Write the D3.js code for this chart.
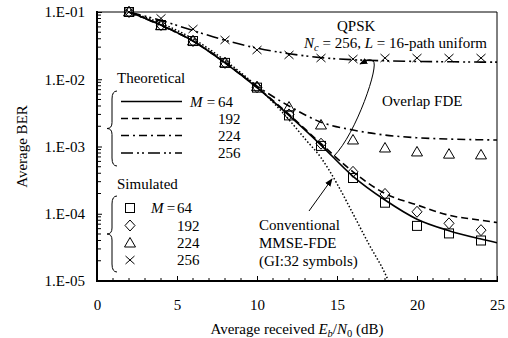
<!DOCTYPE html>
<html>
<head>
<meta charset="utf-8">
<script src="https://cdn.jsdelivr.net/npm/d3@7"></script>
<style>
  body { margin: 0; background: #fff; }
</style>
</head>
<body>
<div id="chart"></div>
<script>
// Eb/N0 (dB) grid of the theoretical curves
const snrTheory = [2, 4, 6, 8, 10, 12, 14, 16, 18, 20, 22, 24, 25];
const theory64  = [0.1, 0.064, 0.037, 0.0175, 0.0075, 0.0029, 0.00105, 0.00036, 0.00016, 8.3e-5, 5.6e-5, 4.2e-5, 3.7e-5];
const theory192 = [0.1, 0.064, 0.037, 0.0175, 0.0076, 0.003, 0.0011, 0.00042, 0.0002, 0.000135, 9.5e-5, 8e-5, 7.4e-5];
const theory224 = [0.1, 0.063, 0.037, 0.018, 0.0079, 0.0040, 0.0023, 0.00176, 0.00148, 0.00135, 0.00129, 0.00126, 0.00125];
const theory256 = [0.1, 0.075, 0.053, 0.038, 0.029, 0.024, 0.021, 0.0195, 0.0188, 0.0184, 0.0182, 0.018, 0.018];

// conventional MMSE-FDE (GI:32 symbols)
const snrConv = [2, 4, 6, 8, 10, 12, 13, 14, 15, 16, 17, 18, 18.5];
const convBer = [0.1, 0.068, 0.04, 0.019, 0.0078, 0.0025, 0.0013, 0.00068, 0.00028, 0.0001, 3.5e-5, 1.3e-5, 7e-6];

// simulated points
const snrSim = [2, 4, 6, 8, 10, 12, 14, 16, 18, 20, 22, 24];
const sim64  = [0.1, 0.064, 0.037, 0.0175, 0.0075, 0.0029, 0.00102, 0.00034, 0.000146, 6.6e-5, 5.1e-5, 4.0e-5];
const sim192 = [0.1, 0.064, 0.037, 0.0175, 0.0076, 0.003, 0.0011, 0.00042, 0.000197, 0.000107, 7.2e-5, 5.7e-5];
const sim224 = [0.1, 0.0625, 0.037, 0.0175, 0.00775, 0.00386, 0.00209, 0.00125, 0.00095, 0.00083, 0.00077, 0.00075];
const sim256 = [0.1, 0.0805, 0.0558, 0.0384, 0.0272, 0.023, 0.0207, 0.02, 0.0207, 0.0207, 0.0207, 0.0207];

const xTicks = [0, 5, 10, 15, 20, 25];
const yTicks = [1e-5, 1e-4, 1e-3, 1e-2, 1e-1];
const yTickLabels = ["1.E-05", "1.E-04", "1.E-03", "1.E-02", "1.E-01"];
const mLabels = ["64", "192", "224", "256"];

const W = 508, H = 338;
const L = 97, R = 497, T = 12, B = 281;
const FS = 15;

const svg = d3.select("#chart").append("svg")
    .attr("width", W).attr("height", H);

const x = d3.scaleLinear().domain([0, 25]).range([L, R]);
const y = d3.scaleLog().domain([1e-5, 1e-1]).range([B, T]);

const defs = svg.append("defs");
defs.append("clipPath").attr("id", "plot")
    .append("rect").attr("x", L).attr("y", T).attr("width", R - L).attr("height", B - T);
defs.append("marker").attr("id", "arrow")
    .attr("viewBox", "0 0 10 10").attr("refX", 9).attr("refY", 5)
    .attr("markerWidth", 8).attr("markerHeight", 8)
    .attr("markerUnits", "userSpaceOnUse")
    .attr("orient", "auto")
    .append("path").attr("d", "M0,1 L10,5 L0,9 Z").attr("fill", "#000");

// frame
svg.append("line").attr("x1", L).attr("x2", R).attr("y1", T).attr("y2", T)
    .attr("stroke", "#000").attr("stroke-width", 1);
svg.append("line").attr("x1", R).attr("x2", R).attr("y1", T).attr("y2", B)
    .attr("stroke", "#000").attr("stroke-width", 1);

// y axis: majors + log minors, ticks inside
const yAxis = d3.axisLeft(y).tickValues(yTicks).tickSize(-5)
    .tickFormat((d, i) => yTickLabels[i]);
const gy = svg.append("g").attr("transform", `translate(${L},0)`).call(yAxis);
gy.attr("font-size", FS);
gy.select(".domain").remove();
gy.selectAll("text").attr("x", -12);

const yMinor = [];
for (let e = -5; e < -1; e++) for (let k = 2; k <= 9; k++) yMinor.push(k * Math.pow(10, e));
svg.append("g").selectAll("line").data(yMinor).enter().append("line")
    .attr("x1", L).attr("x2", L + 4)
    .attr("y1", d => y(d)).attr("y2", d => y(d))
    .attr("stroke", "#000").attr("stroke-width", 1);

// x axis
const xAxis = d3.axisBottom(x).tickValues(xTicks).tickSize(-5).tickPadding(18);
const gx = svg.append("g").attr("transform", `translate(0,${B})`).call(xAxis);
gx.attr("font-size", FS);
gx.select(".domain").remove();

svg.append("g").selectAll("line").data(d3.range(1, 25).filter(d => d % 5)).enter().append("line")
    .attr("x1", d => x(d)).attr("x2", d => x(d))
    .attr("y1", B).attr("y2", B - 3)
    .attr("stroke", "#000").attr("stroke-width", 1);

svg.append("line").attr("x1", L).attr("x2", L).attr("y1", T - 1).attr("y2", B + 1)
    .attr("stroke", "#000").attr("stroke-width", 2);
svg.append("line").attr("x1", L - 1).attr("x2", R + 1).attr("y1", B).attr("y2", B)
    .attr("stroke", "#000").attr("stroke-width", 2);

// axis titles
svg.append("text").attr("transform", `translate(27,${(T + B) / 2}) rotate(-90)`)
    .attr("text-anchor", "middle").attr("font-size", FS).text("Average BER");

const xt = svg.append("text").attr("x", (L + R) / 2).attr("y", 334)
    .attr("text-anchor", "middle").attr("font-size", FS);
xt.append("tspan").text("Average received ");
xt.append("tspan").attr("font-style", "italic").text("E");
xt.append("tspan").attr("font-style", "italic").attr("font-size", FS * 0.7).attr("dy", 3).text("b");
xt.append("tspan").attr("dy", -3).text("/");
xt.append("tspan").attr("font-style", "italic").text("N");
xt.append("tspan").attr("font-size", FS * 0.7).attr("dy", 3).text("0");
xt.append("tspan").attr("dy", -3).text(" (dB)");

// curves
const line = d3.line().x(d => x(d[0])).y(d => y(d[1])).curve(d3.curveMonotoneX);
const theory = [
    { v: theory64,  dash: null,                 w: 1.6 },
    { v: theory192, dash: "7,4",                w: 1.6 },
    { v: theory224, dash: "8,4,2,4",            w: 1.6 },
    { v: theory256, dash: "12,4,2,3,2,4",       w: 1.6 }
];
const plot = svg.append("g").attr("clip-path", "url(#plot)");
theory.forEach(s => {
    plot.append("path").datum(snrTheory.map((d, i) => [d, s.v[i]]))
        .attr("d", line).attr("fill", "none").attr("stroke", "#000")
        .attr("stroke-width", s.w).attr("stroke-dasharray", s.dash);
});
plot.append("path").datum(snrConv.map((d, i) => [d, convBer[i]]))
    .attr("d", line).attr("fill", "none").attr("stroke", "#000")
    .attr("stroke-width", 1.5).attr("stroke-dasharray", "1.5,2");

// marker shapes
function drawMarker(g, type, cx, cy) {
    let el;
    if (type === 0) el = g.append("rect").attr("x", cx - 4.5).attr("y", cy - 4.5).attr("width", 9).attr("height", 9);
    else if (type === 1) el = g.append("path").attr("d", `M${cx},${cy - 5.5}L${cx + 5},${cy}L${cx},${cy + 5.5}L${cx - 5},${cy}Z`);
    else if (type === 2) el = g.append("path").attr("d", `M${cx},${cy - 5.5}L${cx + 5.5},${cy + 4}L${cx - 5.5},${cy + 4}Z`);
    else el = g.append("path").attr("d", `M${cx - 4.5},${cy - 4}L${cx + 4.5},${cy + 4}M${cx - 4.5},${cy + 4}L${cx + 4.5},${cy - 4}`);
    el.attr("fill", "none").attr("stroke", "#000").attr("stroke-width", 1);
}
[sim64, sim192, sim224, sim256].forEach((s, t) => {
    const g = svg.append("g");
    snrSim.forEach((d, i) => drawMarker(g, t, x(d), y(s[i])));
});

// legend: theoretical
svg.append("text").attr("x", 117).attr("y", 83).attr("font-size", FS).text("Theoretical");
const thRows = [101.5, 118.5, 135.5, 153];
theory.forEach((s, i) => {
    svg.append("line").attr("x1", 121).attr("x2", 182).attr("y1", thRows[i]).attr("y2", thRows[i])
        .attr("stroke", "#000").attr("stroke-width", s.w).attr("stroke-dasharray", s.dash);
    if (i === 0) {
        svg.append("text").attr("x", 190).attr("y", thRows[i] + 5).attr("font-size", FS)
            .attr("font-style", "italic").text("M");
        svg.append("text").attr("x", 211).attr("y", thRows[i] + 5).attr("font-size", FS)
            .attr("text-anchor", "middle").text("=");
    }
    svg.append("text").attr("x", 218).attr("y", thRows[i] + 5).attr("font-size", FS).text(mLabels[i]);
});

// legend: simulated
svg.append("text").attr("x", 117).attr("y", 189).attr("font-size", FS).text("Simulated");
const simRows = [208, 225.5, 243, 260];
simRows.forEach((ry, i) => {
    drawMarker(svg, i, 130, ry);
    if (i === 0) {
        svg.append("text").attr("x", 151).attr("y", ry + 5).attr("font-size", FS)
            .attr("font-style", "italic").text("M");
        svg.append("text").attr("x", 171).attr("y", ry + 5).attr("font-size", FS)
            .attr("text-anchor", "middle").text("=");
    }
    svg.append("text").attr("x", 177).attr("y", ry + 5).attr("font-size", FS).text(mLabels[i]);
});

// braces
function brace(xTip, y1, y2, w) {
    const m = (y1 + y2) / 2, xm = xTip + w / 2, xr = xTip + w;
    return `M${xr},${y1} Q${xm},${y1} ${xm},${y1 + 8} L${xm},${m - 6} Q${xm},${m} ${xTip},${m}` +
           ` Q${xm},${m} ${xm},${m + 6} L${xm},${y2 - 8} Q${xm},${y2} ${xr},${y2}`;
}
svg.append("path").attr("d", brace(107, 91, 166, 10)).attr("fill", "none").attr("stroke", "#000").attr("stroke-width", 1);
svg.append("path").attr("d", brace(107, 196, 272, 10)).attr("fill", "none").attr("stroke", "#000").attr("stroke-width", 1);

// annotations
svg.append("text").attr("x", 337).attr("y", 31).attr("font-size", FS).text("QPSK");
const nc = svg.append("text").attr("x", 304).attr("y", 48).attr("font-size", FS);
nc.append("tspan").attr("font-style", "italic").text("N");
nc.append("tspan").attr("font-style", "italic").attr("font-size", FS * 0.7).attr("dy", 3).text("c");
nc.append("tspan").attr("dy", -3).text(" = 256, ");
nc.append("tspan").attr("font-style", "italic").text("L");
nc.append("tspan").text(" = 16-path uniform");

svg.append("text").attr("x", 382).attr("y", 106).attr("font-size", FS).text("Overlap FDE");
svg.append("path").attr("d", "M334,156 C356,134 380,64 373,61 C369,58 366,61 360,64")
    .attr("fill", "none").attr("stroke", "#000").attr("stroke-width", 1)
    .attr("marker-end", "url(#arrow)");

["Conventional", "MMSE-FDE", "(GI:32 symbols)"].forEach((t, i) => {
    svg.append("text").attr("x", 259).attr("y", 230 + i * 18).attr("font-size", FS).text(t);
});
svg.append("line").attr("x1", 309).attr("y1", 211).attr("x2", 332).attr("y2", 179)
    .attr("stroke", "#000").attr("stroke-width", 1).attr("marker-end", "url(#arrow)");

// serif everywhere (inline style wins over the axis attributes)
svg.selectAll("text").style("font-family", '"Liberation Serif"');
</script>
</body>
</html>
